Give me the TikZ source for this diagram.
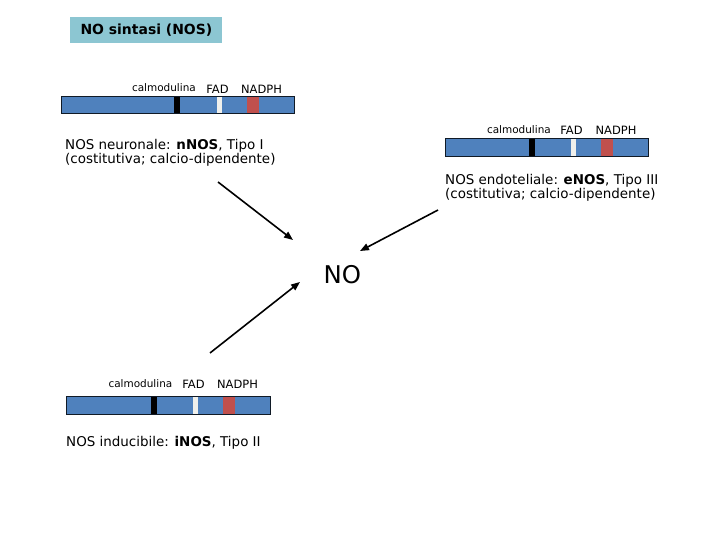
\documentclass[tikz,border=0pt]{standalone}
\usepackage{fontspec}
\setmainfont{DejaVu Sans}
\usetikzlibrary{arrows.meta}
\definecolor{nosblue}{RGB}{79,129,189}
\definecolor{nosred}{RGB}{192,80,77}
\definecolor{nosaqua}{RGB}{140,198,210}
\definecolor{nosfad}{RGB}{240,240,236}
\tikzset{
  lbl/.style={inner sep=0,anchor=base,font=\fontsize{11.5}{13}\selectfont},
  calm/.style={inner sep=0,anchor=base east,font=\fontsize{10.5}{12}\selectfont},
  desc/.style={inner sep=0,anchor=north west,align=left,font=\fontsize{13.5}{14}\selectfont},
  arr/.style={-{Triangle[length=9,width=7]},line width=1.6}
}
\begin{document}
\begin{tikzpicture}[x=1bp,y=-1bp]
\useasboundingbox (0,0) rectangle (720,540);
\node[fill=nosaqua,minimum width=152.7,minimum height=26,font=\fontsize{14}{16}\selectfont\bfseries](title) at (146.4,30.3){NO sintasi (NOS)};
% barre dei domini
\pgfmathsetmacro{\kbh}{17.5}
\foreach \i/\xa/\xb/\y/\b/\f/\n/\d in {1/61/294/96/174/216.5/246.5/3, 2/445/648/138.5/529/570.5/601/4, 3/66/270/396.7/150.5/192.5/222.5/8.5}{
  \fill[nosblue](\xa,\y) rectangle (\xb,\y+\kbh);
  \fill[black](\b,\y) rectangle ++(6,\kbh);
  \fill[nosfad](\f,\y) rectangle ++(5.5,\kbh);
  \fill[nosred](\n,\y) rectangle ++(12,\kbh);
  \draw[line width=0.8,black!80!nosblue](\xa,\y) rectangle (\xb,\y+\kbh);
  \node[calm](calm\i) at (\b+22,\y-\d-1){calmodulina};
  \node[lbl](fad\i) at (\f+1,\y-\d+0.5){FAD};
  \node[lbl](nadph\i) at (\n+15,\y-\d+0.5){NADPH};
}
\node[desc](nnos) at (65,139.5){NOS neuronale: \textbf{nNOS}, Tipo I\\(costitutiva; calcio-dipendente)};
\node[desc](enos) at (445,174.5){NOS endoteliale: \textbf{eNOS}, Tipo III\\(costitutiva; calcio-dipendente)};
\node[desc](inos) at (66,436){NOS inducibile: \textbf{iNOS}, Tipo II};
\node[inner sep=0,font=\fontsize{24.5}{26}\selectfont](no) at (342.3,274.2){NO};
% frecce
\coordinate (sn) at (218,182); \coordinate (tn) at (293,240);
\coordinate (se) at (438,210); \coordinate (te) at (360,251);
\coordinate (si) at (210,353); \coordinate (ti) at (300,282);
\draw[arr](sn)--(tn);
\draw[arr](se)--(te);
\draw[arr](si)--(ti);
\end{tikzpicture}
\end{document}
